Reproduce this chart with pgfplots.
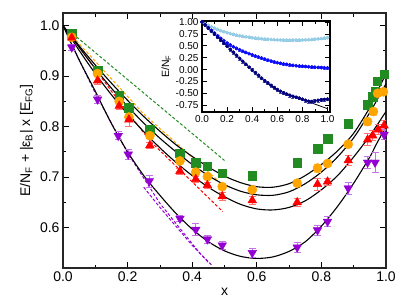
\documentclass[border=0pt]{standalone}
\usepackage{fontspec}
\setmainfont{Liberation Sans}
\usepackage{pgfplots}
\pgfplotsset{compat=1.18}
\usepackage{pgfplotstable}

\definecolor{cgreen}{RGB}{34,139,34}
\definecolor{corange}{RGB}{255,165,0}
\definecolor{cred}{RGB}{255,0,0}
\definecolor{cpurple}{RGB}{148,0,211}
\definecolor{clblue}{RGB}{150,205,230}
\definecolor{cblue}{RGB}{10,10,250}
\definecolor{cnavy}{RGB}{0,0,128}

\pgfplotstableread{
x y e
0.027 0.984 0.004
0.107 0.912 0.005
0.174 0.861 0.005
0.204 0.837 0.005
0.269 0.795 0.005
0.362 0.747 0.005
0.411 0.729 0.005
0.447 0.722 0.004
0.493 0.708 0.006
0.586 0.703 0.005
0.725 0.729 0.006
0.788 0.756 0.005
0.819 0.776 0.006
0.883 0.806 0.005
0.943 0.843 0.006
0.959 0.859 0.006
0.966 0.870 0.006
0.973 0.890 0.007
0.994 0.904 0.006
}\green

\pgfplotstableread{
x y e
0.027 0.977 0.004
0.107 0.905 0.005
0.174 0.850 0.005
0.204 0.819 0.006
0.269 0.782 0.005
0.362 0.732 0.005
0.411 0.710 0.005
0.447 0.701 0.005
0.493 0.681 0.006
0.586 0.675 0.005
0.725 0.688 0.006
0.788 0.718 0.008
0.819 0.727 0.005
0.883 0.765 0.006
0.943 0.810 0.007
0.961 0.830 0.007
0.974 0.866 0.007
0.992 0.869 0.006
}\orange

\pgfplotstableread{
x y e
0.027 0.976 0.005
0.107 0.891 0.008
0.174 0.841 0.006
0.204 0.814 0.014
0.269 0.763 0.006
0.362 0.712 0.006
0.411 0.696 0.006
0.447 0.684 0.006
0.493 0.662 0.008
0.586 0.654 0.007
0.725 0.650 0.007
0.788 0.686 0.012
0.819 0.691 0.007
0.883 0.733 0.010
0.943 0.774 0.012
0.959 0.782 0.010
0.976 0.794 0.010
0.994 0.802 0.010
}\red

\pgfplotstableread{
x y e
0.027 0.957 0.005
0.107 0.854 0.008
0.171 0.782 0.008
0.202 0.745 0.010
0.267 0.692 0.012
0.362 0.618 0.006
0.411 0.596 0.012
0.447 0.577 0.008
0.493 0.565 0.008
0.586 0.550 0.008
0.725 0.561 0.010
0.788 0.595 0.010
0.819 0.612 0.010
0.883 0.678 0.012
0.943 0.729 0.012
0.966 0.729 0.020
0.994 0.784 0.010
}\purple

\pgfplotstableread{
x lb b n
0 1.000 1.000 1.000
0.025 0.962 0.940 0.936
0.05 0.928 0.880 0.872
0.075 0.897 0.822 0.808
0.1 0.868 0.765 0.745
0.125 0.842 0.708 0.681
0.15 0.818 0.655 0.617
0.175 0.796 0.606 0.553
0.2 0.775 0.560 0.490
0.225 0.757 0.518 0.426
0.25 0.740 0.480 0.363
0.275 0.725 0.446 0.299
0.3 0.711 0.415 0.235
0.325 0.699 0.386 0.174
0.35 0.688 0.360 0.112
0.375 0.678 0.334 0.050
0.4 0.669 0.310 -0.010
0.425 0.661 0.287 -0.066
0.45 0.654 0.265 -0.122
0.475 0.647 0.242 -0.180
0.5 0.641 0.220 -0.235
0.525 0.636 0.199 -0.283
0.55 0.632 0.180 -0.330
0.575 0.628 0.162 -0.376
0.6 0.625 0.145 -0.420
0.625 0.622 0.132 -0.456
0.65 0.620 0.120 -0.490
0.675 0.619 0.110 -0.515
0.7 0.618 0.100 -0.540
0.725 0.618 0.090 -0.560
0.75 0.619 0.082 -0.580
0.775 0.620 0.076 -0.600
0.8 0.622 0.070 -0.620
0.825 0.625 0.065 -0.645
0.85 0.628 0.060 -0.665
0.875 0.633 0.055 -0.670
0.9 0.638 0.050 -0.660
0.925 0.645 0.046 -0.645
0.95 0.652 0.042 -0.635
0.975 0.661 0.038 -0.628
1.0 0.670 0.035 -0.620
}\inset

\begin{document}
\begin{tikzpicture}
\begin{axis}[name=main,
  scale only axis, width=323pt, height=255pt,
  xmin=0, xmax=1, ymin=0.52, ymax=1.025,
  xtick={0,0.2,0.4,0.6,0.8,1.0},
  ytick={0.6,0.7,0.8,0.9,1.0},
  minor x tick num=1, minor y tick num=1,
  tick align=inside,
  major tick length=6pt, minor tick length=3.5pt,
  axis line style={line width=1.2pt, black!85},
  tick style={line width=0.8pt, black},
  /pgf/number format/assume math mode=true,
  xticklabel style={/pgf/number format/.cd, fixed, fixed zerofill, precision=1},
  yticklabel style={/pgf/number format/.cd, fixed, fixed zerofill, precision=1},
  tick label style={font=\fontsize{14}{16}\selectfont},
  label style={font=\fontsize{14}{16}\selectfont},
  xlabel={x},
  ylabel={E/N\textsubscript{F} + |ε\textsubscript{B}| x [E\textsubscript{FG}]},
]
% dashed lines
\addplot[cgreen, line width=1pt, dash pattern=on 3pt off 2pt] coordinates {(0.03,0.984) (0.5,0.733)};
\addplot[corange, line width=1pt, dash pattern=on 3pt off 2pt] coordinates {(0.02,0.985) (0.25,0.825) (0.48,0.693)};
\addplot[cred, line width=1pt, dash pattern=on 3pt off 2pt] coordinates {(0.02,0.984) (0.15,0.87) (0.269,0.772) (0.494,0.632)};
\addplot[cpurple, line width=1pt, dash pattern=on 3pt off 2pt] coordinates {(0.02,0.972) (0.1,0.866) (0.2,0.748) (0.3,0.648) (0.424,0.549) (0.45,0.531)};
\addplot[cpurple, line width=1pt, dash pattern=on 3pt off 2pt] coordinates {(0.25,0.68) (0.3,0.64) (0.4,0.565) (0.46,0.526)};
% fit curves
\addplot[black, line width=1.1pt, smooth] coordinates {(0,1.0) (0.05,0.96) (0.1,0.922) (0.15,0.886) (0.2,0.852) (0.25,0.82) (0.3,0.791) (0.35,0.764) (0.4,0.741) (0.45,0.72) (0.5,0.702) (0.55,0.689) (0.6,0.681) (0.65,0.68) (0.7,0.687) (0.75,0.703) (0.8,0.725) (0.85,0.752) (0.9,0.787) (0.95,0.838) (0.97,0.865) (1.0,0.905)};
\addplot[black, line width=1.1pt, smooth] coordinates {(0,1.0) (0.05,0.957) (0.1,0.915) (0.15,0.876) (0.2,0.84) (0.25,0.807) (0.3,0.777) (0.35,0.75) (0.4,0.725) (0.45,0.703) (0.5,0.685) (0.55,0.672) (0.6,0.665) (0.65,0.664) (0.7,0.671) (0.75,0.687) (0.8,0.71) (0.85,0.74) (0.9,0.778) (0.95,0.828) (0.98,0.862) (1.0,0.885)};
\addplot[black, line width=1.1pt, smooth] coordinates {(0,1.0) (0.05,0.951) (0.1,0.905) (0.15,0.863) (0.2,0.825) (0.25,0.79) (0.3,0.758) (0.35,0.729) (0.4,0.703) (0.45,0.68) (0.5,0.661) (0.55,0.646) (0.6,0.637) (0.65,0.635) (0.7,0.64) (0.75,0.653) (0.8,0.675) (0.85,0.703) (0.9,0.74) (0.95,0.782) (1.0,0.83)};
\addplot[black, line width=1.1pt, smooth] coordinates {(0,1.0) (0.05,0.932) (0.1,0.87) (0.15,0.806) (0.2,0.75) (0.25,0.703) (0.3,0.664) (0.35,0.628) (0.4,0.597) (0.45,0.572) (0.5,0.554) (0.55,0.543) (0.6,0.539) (0.65,0.542) (0.7,0.553) (0.75,0.572) (0.8,0.603) (0.85,0.642) (0.9,0.688) (0.95,0.74) (0.97,0.765) (1.0,0.80)};
% data
\addplot[only marks, mark=square*, mark size=4.3pt, color=cgreen,
  error bars/.cd, y dir=both, y explicit, error bar style={color=cgreen!55, line width=0.7pt}, error mark options={rotate=90, mark size=3.5pt, line width=0.7pt, color=cgreen!55}]
  table[x=x, y=y, y error=e] {\green};
\addplot[only marks, mark=*, mark size=4.6pt, color=corange,
  error bars/.cd, y dir=both, y explicit, error bar style={color=corange!55, line width=0.7pt}, error mark options={rotate=90, mark size=3.5pt, line width=0.7pt, color=corange!55}]
  table[x=x, y=y, y error=e] {\orange};
\addplot[only marks, mark=triangle*, mark size=5pt, color=cred,
  error bars/.cd, y dir=both, y explicit, error bar style={color=cred!55, line width=0.7pt}, error mark options={rotate=90, mark size=3.5pt, line width=0.7pt, color=cred!55}]
  table[x=x, y=y, y error=e] {\red};
\addplot[only marks, mark=triangle*, mark options={rotate=180}, mark size=5pt, color=cpurple,
  error bars/.cd, y dir=both, y explicit, error bar style={color=cpurple!55, line width=0.7pt}, error mark options={rotate=90, mark size=3.5pt, line width=0.7pt, color=cpurple!55}]
  table[x=x, y=y, y error=e] {\purple};
\end{axis}

\begin{axis}[at={(main.north west)}, anchor=north west, xshift=139pt, yshift=-8pt,
  scale only axis, width=128pt, height=91pt,
  xmin=0, xmax=1.02, ymin=-0.89, ymax=1.02,
  xtick={0,0.2,0.4,0.6,0.8,1.0},
  ytick={-0.75,-0.5,-0.25,0,0.25,0.5,0.75,1.0},
  minor x tick num=1,
  tick align=inside,
  major tick length=5pt, minor tick length=3pt,
  axis line style={line width=1.1pt, black},
  tick style={line width=0.7pt, black},
  axis background/.style={fill=white},
  /pgf/number format/assume math mode=true,
  xticklabel style={/pgf/number format/.cd, fixed, fixed zerofill, precision=1},
  yticklabel style={/pgf/number format/.cd, fixed, fixed zerofill, precision=2},
  tick label style={font=\fontsize{10}{12}\selectfont},
  label style={font=\fontsize{10.5}{12}\selectfont},
  ylabel={E/N\textsubscript{F}},
  ylabel style={yshift=-2pt},
]
\addplot[only marks, mark=*, mark size=1.7pt, color=clblue,
  error bars/.cd, y dir=both, y fixed=0.015, error bar style={color=clblue}, error mark options={rotate=90, mark size=1.5pt, color=clblue}]
  table[x=x, y=lb] {\inset};
\addplot[only marks, mark=*, mark size=1.7pt, color=cblue,
  error bars/.cd, y dir=both, y fixed=0.02, error bar style={color=cblue!70}, error mark options={rotate=90, mark size=1.5pt, color=cblue!70}]
  table[x=x, y=b] {\inset};
\addplot[black, line width=0.8pt, smooth] coordinates {(0,1.0) (0.1,0.745) (0.2,0.49) (0.3,0.235) (0.4,-0.01) (0.5,-0.235) (0.6,-0.42) (0.7,-0.53) (0.8,-0.63) (0.9,-0.725) (1.0,-0.82)};
\addplot[only marks, mark=*, mark size=1.7pt, color=cnavy,
  error bars/.cd, y dir=both, y fixed=0.03, error bar style={color=cnavy!70}, error mark options={rotate=90, mark size=1.5pt, color=cnavy!70}]
  table[x=x, y=n] {\inset};
\end{axis}
\pgfresetboundingbox
\path ([xshift=-63pt,yshift=-34pt]main.south west) rectangle ([xshift=9pt,yshift=13pt]main.north east);
\end{tikzpicture}
\end{document}
